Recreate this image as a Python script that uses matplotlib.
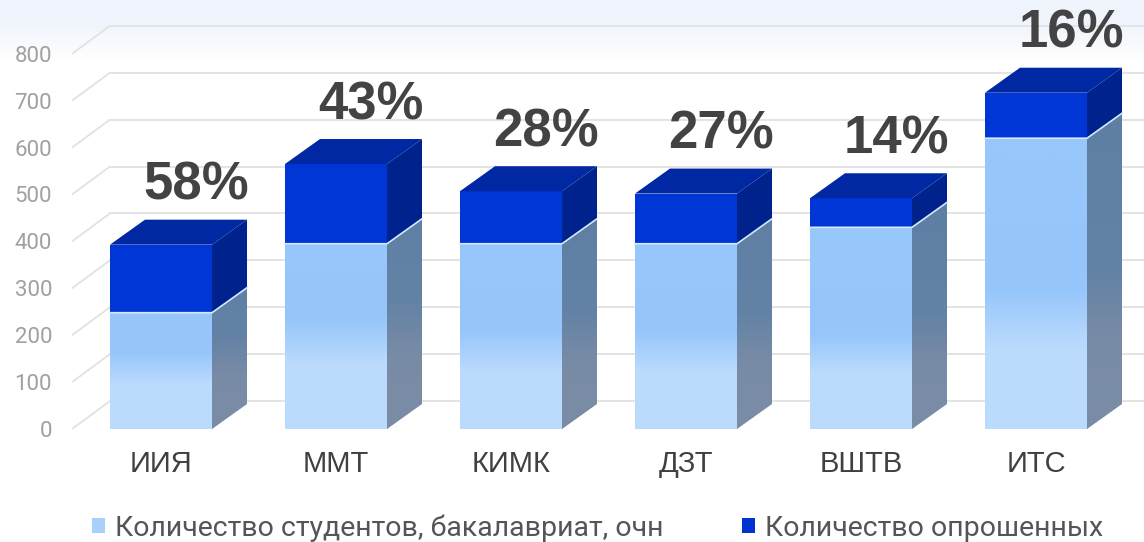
import matplotlib
matplotlib.use("Agg")
import matplotlib.pyplot as plt
import numpy as np
from matplotlib.colors import LinearSegmentedColormap
from matplotlib.patches import Polygon, Patch

plt.rcParams['font.family'] = ['Roboto', 'DejaVu Sans']

# data
categories = ["ИИЯ", "ММТ", "КИМК", "ДЗТ", "ВШТВ", "ИТС"]
students = [248, 395, 395, 395, 430, 620]
surveyed = [145, 170, 112, 107, 62, 97]
shares = ["58%", "43%", "28%", "27%", "14%", "16%"]
yticks = list(range(0, 900, 100))
series_names = ["Количество студентов, бакалавриат, очн", "Количество опрошенных"]

W, H = 1144, 542
PX_Y = 0.469      # pixels per value unit
PX_X = 175        # pixels per category
L, B, T = 58, 429, 15

fig = plt.figure(figsize=(W / 100, H / 100), dpi=100)

# faint blue tint at the top of the slide
bg = fig.add_axes([0, 0, 1, 1], zorder=-10)
bg.axis('off')
rows = np.arange(H)
tint = np.clip((60 - rows) / 40.0, 0, 1).reshape(-1, 1)
bg.imshow(tint, extent=[0, 1, 0, 1], aspect='auto',
          cmap=LinearSegmentedColormap.from_list('bg', ['#ffffff', '#eff3fb']))

ax = fig.add_axes([L / W, (H - B) / H, (W - L) / W, (B - T) / H])
ax.patch.set_alpha(0)
xlim = ((L - 161) / PX_X, (W - 161) / PX_X)
ylim = (0, (B - T) / PX_Y)

# 3d depth
dx, dy = 35 / PX_X, 25 / PX_Y
wdx, wdy = 38 / PX_X, 28 / PX_Y
wall_x = (72 - 161) / PX_X
grid_c = '#e2e2e2'

for v in yticks:
    ax.plot([wall_x, wall_x + wdx], [v, v + wdy], color=grid_c, lw=1.3,
            zorder=0, clip_on=False, solid_capstyle='butt')
    ax.plot([wall_x + wdx, xlim[1]], [v + wdy, v + wdy], color=grid_c, lw=1.3,
            zorder=0, clip_on=False)

front_cmap = LinearSegmentedColormap.from_list(
    'front', [(0, '#bcdcfd'), (0.24, '#bbdbfd'), (0.42, '#95c5fb'), (1, '#99c8fb')])
side_cmap = LinearSegmentedColormap.from_list(
    'side', [(0, '#7b8da6'), (0.26, '#788ba5'), (0.45, '#6282a6'), (1, '#5d7ea3')])
grad = np.linspace(0, 1, 256).reshape(-1, 1)

x = np.arange(len(categories))
w = 0.583
totals = [s + q for s, q in zip(students, surveyed)]

light = ax.bar(x, students, width=w, color='#a8d0fb', zorder=2)
dark = ax.bar(x, surveyed, bottom=students, width=w, color='#0036d6', zorder=3)

for i, rect in enumerate(light):
    x0, x1 = x[i] - w / 2, x[i] + w / 2
    s, t = students[i], totals[i]
    im = ax.imshow(grad, extent=[x0, x1, 0, t], origin='lower', aspect='auto',
                   cmap=front_cmap, zorder=2.5)
    im.set_clip_path(rect)

    side = Polygon([(x1, 0), (x1 + dx, dy), (x1 + dx, s + dy), (x1, s)],
                   closed=True, facecolor='none', edgecolor='none')
    ax.add_patch(side)
    ims = ax.imshow(grad, extent=[x1, x1 + dx, 0, t + dy], origin='lower',
                    aspect='auto', cmap=side_cmap, zorder=2.5)
    ims.set_clip_path(side)

    ax.add_patch(Polygon([(x1, s), (x1 + dx, s + dy), (x1 + dx, t + dy), (x1, t)],
                         closed=True, facecolor='#00228c', edgecolor='none', zorder=3))
    ax.add_patch(Polygon([(x0, t), (x1, t), (x1 + dx, t + dy), (x0 + dx, t + dy)],
                         closed=True, facecolor='#0028a3', edgecolor='none', zorder=3))
    ax.plot([x0, x1, x1 + dx], [s, s, s + dy], color='#d2e9ff', lw=1.2, zorder=3.5)

    ax.text(x[i] + dx, t + dy + 20 / PX_Y, shares[i], ha='center', va='baseline',
            fontsize=38, fontweight='bold', color='#434343',
            family=['Liberation Sans', 'DejaVu Sans'])

ax.set_xlim(*xlim)
ax.set_ylim(*ylim)
for sp in ax.spines.values():
    sp.set_visible(False)

ax.set_yticks(yticks)
ax.tick_params(axis='y', length=0, pad=4.3, labelsize=16, labelcolor='#a0a0a0')
ax.set_xticks(x, categories)
ax.tick_params(axis='x', length=0, pad=15, labelsize=21, labelcolor='#404040')
for lab in ax.get_xticklabels():
    lab.set_family(['Liberation Sans', 'DejaVu Sans'])

handles = [Patch(facecolor='#a8d0fb'), Patch(facecolor='#0033d0')]
fig.legend(handles, series_names, loc='center left',
           bbox_to_anchor=(92 / W, 1 - 528 / H), ncol=2, frameon=False,
           fontsize=20.5, labelcolor='#555555', handlelength=0.46, handleheight=0.46,
           handletextpad=0.35, columnspacing=2.75, borderpad=0, borderaxespad=0)

fig.savefig("out.png", dpi=100)
